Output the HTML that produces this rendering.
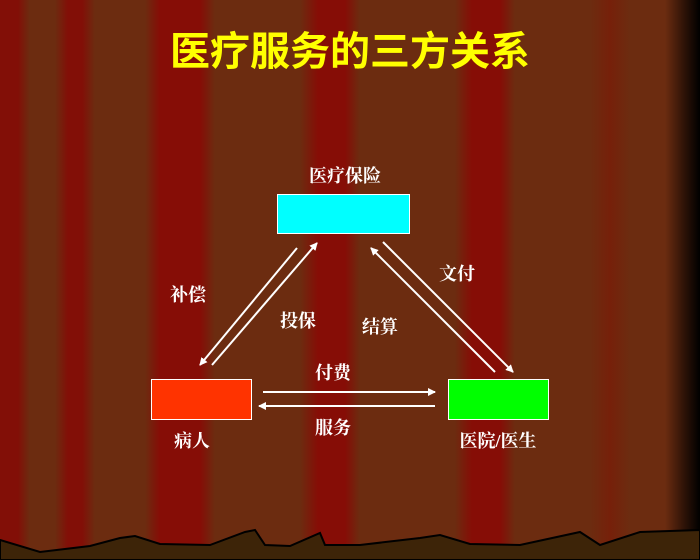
<!DOCTYPE html>
<html><head><meta charset="utf-8"><style>
html,body{margin:0;padding:0}
body{width:700px;height:560px;overflow:hidden;position:relative;
background:
linear-gradient(90deg,rgba(0,0,0,0) 0,rgba(0,0,0,0) 665px,rgba(0,0,0,.6) 685px,#000 700px),
linear-gradient(90deg,#820f07 0,#820f07 18px,#6c2c10 30px,#6c2c10 55px,#820f07 68px,#820f07 82px,#6c2c10 95px,#6c2c10 145px,#860d06 160px,#860d06 200px,#6c2c10 215px,#6c2c10 300px,#860d06 318px,#860d06 345px,#6c2c10 360px,#6c2c10 455px,#860d06 472px,#860d06 500px,#6c2c10 515px,#6c2c10 590px,#76200a 610px,#6c2c10 630px);
font-family:"Liberation Sans","Noto Sans CJK SC",sans-serif;}
.t{position:absolute;color:#fff;font-weight:bold;font-size:18px;white-space:nowrap;transform:translate(-50%,-50%);font-family:"Liberation Serif","Noto Serif CJK SC",serif}
.box{position:absolute;border:1px solid #fff;box-sizing:border-box}
</style></head><body>
<div class="t" style="left:350px;top:48px;font-size:40px;color:#ffff00;font-family:'Liberation Sans','Noto Sans CJK SC',sans-serif">医疗服务的三方关系</div>
<div class="box" style="left:277px;top:194px;width:133px;height:40px;background:#00ffff"></div>
<div class="box" style="left:151px;top:379px;width:101px;height:41px;background:#ff3300"></div>
<div class="box" style="left:448px;top:379px;width:101px;height:41px;background:#00ff00"></div>
<svg width="700" height="560" style="position:absolute;left:0;top:0">
<defs><marker id="a" markerWidth="8" markerHeight="8" refX="7" refY="4" orient="auto" markerUnits="userSpaceOnUse"><path d="M0,0 L8,4 L0,8 Z" fill="#fff"/></marker></defs>
<g stroke="#fff" stroke-width="2" fill="none" marker-end="url(#a)">
<line x1="297" y1="248" x2="200" y2="365"/>
<line x1="212" y1="365" x2="317" y2="243"/>
<line x1="495" y1="372" x2="371" y2="248"/>
<line x1="383" y1="242" x2="513" y2="372"/>
<line x1="263" y1="392" x2="435" y2="392"/>
<line x1="435" y1="406" x2="259" y2="406"/>
</g>
<path d="M0,540 L40,552 L90,546 L120,538 L135,536 L160,544 L210,545 L245,532 L255,530 L265,545 L290,546 L320,533 L325,545 L360,545 L420,538 L440,535 L470,544 L520,545 L580,532 L600,545 L640,532 L700,530 L700,560 L0,560 Z" fill="#3d2408" stroke="#000" stroke-width="2"/>
</svg>
<div class="t" style="left:345px;top:175px">医疗保险</div>
<div class="t" style="left:188px;top:294px">补偿</div>
<div class="t" style="left:298px;top:320px">投保</div>
<div class="t" style="left:380px;top:326px">结算</div>
<div class="t" style="left:457px;top:273px">文付</div>
<div class="t" style="left:333px;top:372px">付费</div>
<div class="t" style="left:333px;top:427px">服务</div>
<div class="t" style="left:192px;top:440px">病人</div>
<div class="t" style="left:498px;top:440px">医院/医生</div>
</body></html>
